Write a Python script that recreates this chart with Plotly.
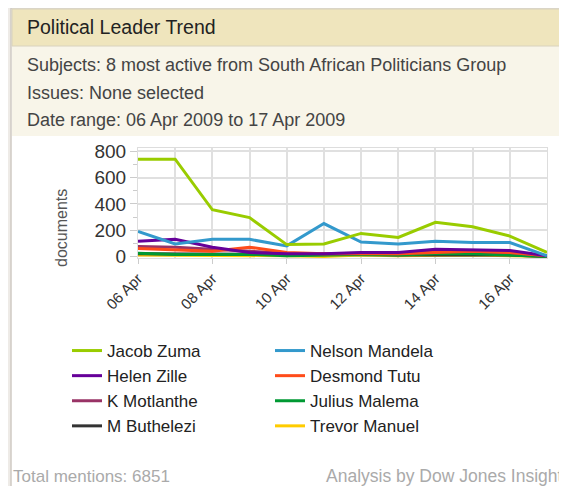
import pandas as pd
import plotly.graph_objects as go

dates = pd.date_range("2009-04-06", "2009-04-17", freq="D")

jacob_zuma = [740, 740, 355, 295, 90, 95, 175, 145, 260, 225, 155, 30]
nelson_mandela = [190, 95, 130, 130, 80, 250, 110, 95, 115, 105, 105, 5]
helen_zille = [115, 130, 70, 30, 20, 20, 30, 30, 55, 50, 45, 5]
desmond_tutu = [60, 50, 40, 70, 30, 20, 20, 20, 30, 40, 30, 5]
k_motlanthe = [75, 70, 55, 40, 25, 20, 25, 20, 40, 40, 30, 5]
julius_malema = [25, 15, 15, 15, 5, 10, 15, 10, 20, 20, 10, 0]
m_buthelezi = [20, 20, 20, 20, 15, 15, 15, 10, 10, 15, 10, 0]
trevor_manuel = [10, 10, 5, 5, 5, 0, 10, 5, 10, 10, 5, 0]

series = [
    ("Jacob Zuma", jacob_zuma, "#99cc00"),
    ("Nelson Mandela", nelson_mandela, "#3399cc"),
    ("Helen Zille", helen_zille, "#660099"),
    ("Desmond Tutu", desmond_tutu, "#ff4c1a"),
    ("K Motlanthe", k_motlanthe, "#993366"),
    ("Julius Malema", julius_malema, "#009933"),
    ("M Buthelezi", m_buthelezi, "#333333"),
    ("Trevor Manuel", trevor_manuel, "#ffcc00"),
]

FONT = "Liberation Sans, Arial, sans-serif"

# the page body adds an 8px margin, so the figure is drawn 8px smaller
OFF = 8
W, H = 567 - OFF, 486 - OFF
# plot area in page pixels: x 138..547, y 148..258
PL, PR, PT, PB = 138, 547, 148, 258
PW, PH = PR - PL, PB - PT


def px_x(p):
    return (p - PL) / PW


def px_y(p):
    return (PB - p) / PH


fig = go.Figure()
# draw in reverse so the big series sit on top, legend keeps original order
for i, (name, vals, color) in reversed(list(enumerate(series))):
    fig.add_trace(go.Scatter(
        x=dates, y=vals, name=name, mode="lines",
        line=dict(color=color, width=3),
        legendrank=i + 1,
    ))

# panel decoration
fig.add_shape(type="rect", xref="paper", yref="paper", layer="below",
              x0=px_x(11), x1=px_x(562), y0=px_y(520), y1=px_y(8),
              fillcolor="white", line=dict(color="#cfcac4", width=1.5))
fig.add_shape(type="rect", xref="paper", yref="paper", layer="below",
              x0=px_x(12), x1=px_x(561), y0=px_y(136), y1=px_y(46),
              fillcolor="#f8f5e9", line=dict(width=0))
fig.add_shape(type="rect", xref="paper", yref="paper", layer="below",
              x0=px_x(12), x1=px_x(561), y0=px_y(46), y1=px_y(9),
              fillcolor="#efe5bd", line=dict(color="#d8d2bd", width=1))

texts = [
    ("Political Leader Trend", 25, 27, 19.5, "#222222"),
    ("Subjects: 8 most active from South African Politicians Group", 25, 65, 18, "#444444"),
    ("Issues: None selected", 25, 93, 18, "#444444"),
    ("Date range: 06 Apr 2009 to 17 Apr 2009", 25, 120, 18, "#444444"),
]
for txt, px, py, size, col in texts:
    fig.add_annotation(text=txt, xref="paper", yref="paper",
                       x=px_x(px), y=px_y(py),
                       xanchor="left", yanchor="middle", showarrow=False,
                       font=dict(size=size, color=col, family=FONT))

# y axis title sits lower than the plot centre in the original
fig.add_annotation(text="documents", xref="paper", yref="paper",
                   x=px_x(61), y=px_y(228), textangle=-90,
                   xanchor="center", yanchor="middle", showarrow=False,
                   font=dict(size=16, color="#555555", family=FONT))

fig.add_annotation(text="Total mentions: 6851", xref="paper", yref="paper",
                   x=px_x(11), y=px_y(476),
                   xanchor="left", yanchor="middle", showarrow=False,
                   font=dict(size=17, color="#aaaaaa", family=FONT))
fig.add_annotation(text="Analysis by Dow Jones Insight", xref="paper", yref="paper",
                   x=px_x(564), y=px_y(476),
                   xanchor="right", yanchor="middle", showarrow=False,
                   font=dict(size=17.5, color="#aaaaaa", family=FONT))

fig.update_layout(
    width=W, height=H,
    margin=dict(l=PL - OFF, r=W - (PR - OFF), t=PT - OFF, b=H - (PB - OFF),
                autoexpand=False),
    paper_bgcolor="#eeebe7",
    plot_bgcolor="white",
    font=dict(family=FONT, color="#333333"),
    showlegend=True,
    legend=dict(
        orientation="h", x=px_x(67), y=px_y(333), xanchor="left", yanchor="top",
        entrywidth=158, entrywidthmode="pixels",
        font=dict(size=17, color="#222222", family=FONT),
        bgcolor="rgba(0,0,0,0)", traceorder="normal",
    ),
    xaxis=dict(
        range=[dates[0], dates[-1]],
        tickformat="%d %b", dtick=2 * 86400000, tick0=dates[0],
        tickangle=-45, tickfont=dict(size=15, color="#333333"),
        ticks="outside", ticklen=5, tickcolor="#cccccc",
        showgrid=True, gridcolor="#e0e0e0", gridwidth=1.5,
        minor=dict(dtick=86400000, showgrid=True, gridcolor="#e0e0e0", gridwidth=1.5),
        showline=True, linecolor="#dddddd", mirror=True,
        zeroline=False,
    ),
    yaxis=dict(
        range=[-12, 825], tickvals=[0, 200, 400, 600, 800],
        tickfont=dict(size=19, color="#333333"),
        ticks="outside", ticklen=7, tickcolor="#cccccc",
        minor=dict(tickvals=[100, 300, 500, 700], ticks="outside", ticklen=4,
                   tickcolor="#cccccc", showgrid=False),
        showgrid=True, gridcolor="#e0e0e0", gridwidth=1.5,
        showline=True, linecolor="#dddddd", mirror=True,
        zeroline=False,
    ),
)

fig.write_html("out.html")
